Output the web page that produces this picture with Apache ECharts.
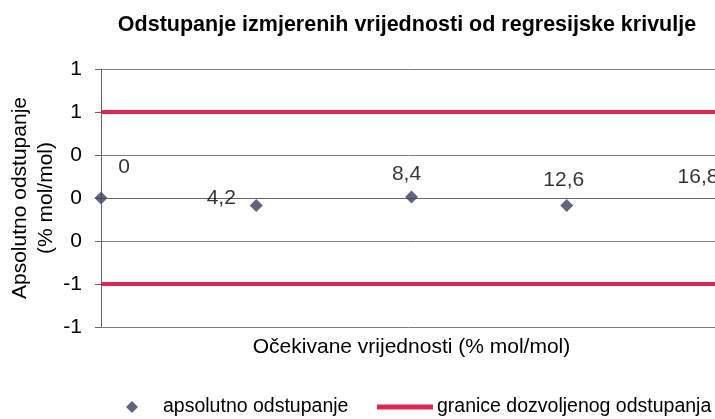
<!DOCTYPE html>
<html><head><meta charset="utf-8">
<script src="https://cdn.jsdelivr.net/npm/echarts@6/dist/echarts.min.js"></script>
<style>html,body{margin:0;padding:0;background:#fff}#c{width:715px;height:419px}</style>
</head><body><div id="c"></div>
<script>
// ---- data ----
var categories = [0, 4.2, 8.4, 12.6, 16.8];
var deviation = [0.0, -0.07, 0.01, -0.07, 0.0];
var upperLimit = [0.8, 0.8, 0.8, 0.8, 0.8];
var lowerLimit = [-0.8, -0.8, -0.8, -0.8, -0.8];
var yMin = -1.2, yMax = 1.2, yStep = 0.4;
var titleText = 'Odstupanje izmjerenih vrijednosti od regresijske krivulje';
var xName = 'Očekivane vrijednosti (% mol/mol)';
var yName = 'Apsolutno odstupanje\n(% mol/mol)';
var seriesNames = ['apsolutno odstupanje', 'granice dozvoljenog odstupanja'];

// ---- style (label offsets per point, relative to default 'top' placement) ----
var labelOffsets = [[23, -14], [-35, 10], [-5, -6], [-3, -8], [-24, -4]];

var FONT = 'Liberation Sans';
var RED = '#dc2753';
var NAVY = '#3a3f5e';
var TXT = '#000';

var chart = echarts.init(document.getElementById('c'));
var pointData = deviation.map(function (v, i) {
  return {
    value: v,
    label: {
      show: true, position: 'top', distance: 0, offset: labelOffsets[i],
      formatter: String(categories[i]).replace('.', ','),
      color: TXT, fontSize: 21, fontFamily: FONT, textBorderWidth: 0
    }
  };
});
chart.setOption({
  animation: false,
  backgroundColor: '#fff',
  title: {
    text: titleText, left: 402, top: 9, textAlign: 'center',
    textStyle: {fontFamily: FONT, fontSize: 21.5, fontWeight: 'bold', color: TXT}
  },
  legend: [{
    data: [{name: seriesNames[0], icon: 'diamond'}],
    left: 126, top: 397, padding: 0, itemWidth: 12, itemHeight: 12, itemGap: 0,
    textStyle: {fontFamily: FONT, fontSize: 19.5, color: TXT, padding: [0, 0, 0, 20]}
  }, {
    data: [{name: seriesNames[1], icon: 'rect'}],
    left: 377, top: 397, padding: 0, itemWidth: 56, itemHeight: 5, itemGap: 0,
    textStyle: {fontFamily: FONT, fontSize: 19.5, color: TXT, padding: [0, 0, 0, -1]}
  }],
  grid: {left: 101, top: 69, width: 621, height: 258, outerBoundsMode: 'none', containLabel: false},
  xAxis: {
    type: 'category', data: categories.map(String), boundaryGap: false,
    name: xName, nameLocation: 'middle', nameGap: 10, nameMoveOverlap: false,
    nameTextStyle: {fontFamily: FONT, fontSize: 21, color: TXT, verticalAlign: 'top'},
    axisLine: {show: true, lineStyle: {color: '#666', width: 1}},
    axisTick: {show: false}, axisLabel: {show: false}, splitLine: {show: false}
  },
  yAxis: {
    type: 'value', min: yMin, max: yMax, interval: yStep,
    name: yName, nameLocation: 'middle', nameRotate: 90, nameGap: 42, nameMoveOverlap: false,
    nameTextStyle: {fontFamily: FONT, fontSize: 21, color: TXT, lineHeight: 26},
    axisLine: {show: true, lineStyle: {color: '#666', width: 1}},
    axisTick: {show: true, length: 6, lineStyle: {color: '#666'}},
    axisLabel: {
      margin: 19, fontFamily: FONT, fontSize: 21, color: TXT,
      formatter: function (v) { var r = Math.round(v); return String(r === 0 ? 0 : r); }
    },
    splitLine: {show: true, lineStyle: {color: '#7f7f7f', width: 1}}
  },
  series: [{
    name: seriesNames[1], type: 'line', data: upperLimit, symbol: 'none',
    lineStyle: {color: RED, width: 4}, itemStyle: {color: RED}, z: 2
  }, {
    name: seriesNames[1], type: 'line', data: lowerLimit, symbol: 'none',
    lineStyle: {color: RED, width: 4}, itemStyle: {color: RED}, z: 2
  }, {
    name: seriesNames[0], type: 'scatter', data: pointData,
    symbol: 'diamond', symbolSize: 13, itemStyle: {color: NAVY}, z: 5
  }]
});
</script></body></html>
